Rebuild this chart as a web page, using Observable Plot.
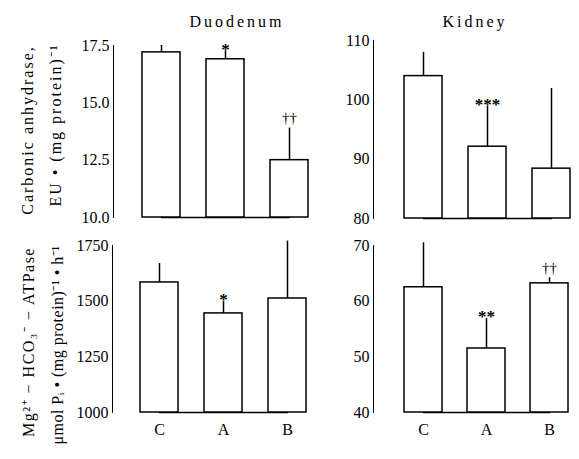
<!DOCTYPE html>
<html><head><meta charset="utf-8">
<script src="https://cdn.jsdelivr.net/npm/d3@7"></script>
<script src="https://cdn.jsdelivr.net/npm/@observablehq/plot@0.6"></script>
<style>
body{margin:0;background:#fff;}
#wrap{position:relative;width:579px;height:459px;overflow:hidden;font-family:"Liberation Serif",serif;color:#000;}
.panel{position:absolute;}
.ttl{position:absolute;font-size:16px;letter-spacing:3px;transform:translate(-50%,-50%);white-space:nowrap;}
.ylab{position:absolute;font-size:16px;white-space:nowrap;transform:translate(-50%,-50%) rotate(-90deg);}
</style></head><body><div id="wrap"></div>
<script>
const groups = ["C", "A", "B"];

const duoCAMean = [17.2, 16.9, 12.5];
const duoCASem  = [0.3, 0.35, 1.4];
const duoCASig  = ["", "*", "††"];
const duoCATicks = [10, 12.5, 15, 17.5];

const kidCAMean = [104.0, 92.1, 88.4];
const kidCASem  = [4.0, 6.8, 13.5];
const kidCASig  = ["", "***", ""];
const kidCATicks = [80, 90, 100, 110];

const duoATPMean = [1584, 1445, 1512];
const duoATPSem  = [85, 53, 258];
const duoATPSig  = ["", "*", ""];
const duoATPTicks = [1000, 1250, 1500, 1750];

const kidATPMean = [62.5, 51.5, 63.2];
const kidATPSem  = [8.0, 5.4, 1.0];
const kidATPSig  = ["", "**", "††"];
const kidATPTicks = [40, 50, 60, 70];

const titles = ["Duodenum", "Kidney"];
const yTitlesTop = ["Carbonic anhydrase,", "EU • (mg protein)⁻¹"];
const yTitlesBottom = ["Mg²⁺ − HCO₃⁻ − ATPase", "μmol Pᵢ • (mg protein)⁻¹ • h⁻¹"];

const wrap = document.getElementById("wrap");

function panel(o) {
  const data = groups.map((g, i) => ({g, m: o.means[i], top: o.means[i] + o.sems[i], sig: o.sigs[i]}));
  const ymin = o.ticks[0], ymax = o.ticks[o.ticks.length - 1];
  const chart = Plot.plot({
    width: o.width, height: o.height,
    marginTop: o.mt, marginBottom: o.mb, marginLeft: o.ml, marginRight: o.mr,
    style: {fontFamily: "'Liberation Serif', serif", fontSize: "16px", background: "transparent", color: "black", overflow: "visible"},
    x: {domain: groups, paddingInner: 0.4, paddingOuter: o.pad, align: 1,
        axis: o.xAxis ? "bottom" : null, tickSize: 0, tickPadding: 11, label: null},
    y: {domain: [ymin, ymax], ticks: o.ticks, tickFormat: o.fmt, tickSize: 0, tickPadding: 4, label: null, line: true},
    marks: [
      Plot.lineY(data, {x: "g", y: () => ymin, stroke: "black", strokeWidth: 1.5}),
      Plot.barY(data, {x: "g", y1: () => ymin, y2: "m", fill: "white", stroke: "black", strokeWidth: 1.5}),
      Plot.ruleX(data, {x: "g", y1: "m", y2: "top", stroke: "black", strokeWidth: 1.5}),
      Plot.text(data.filter(d => d.sig.includes("*")), {x: "g", y: "top", text: "sig", dy: -2, fontSize: 17, fontWeight: "bold"}),
      Plot.text(data.filter(d => d.sig.includes("†")), {x: "g", y: "top", text: "sig", dy: -10, fontSize: 15})
    ]
  });
  chart.classList.add("panel");
  chart.style.left = o.left + "px";
  chart.style.top = o.top + "px";
  chart.style.fontSize = "16px";
  wrap.appendChild(chart);
}

const f1 = d3.format(".1f"), f0 = d3.format("d");
panel({means: duoCAMean, sems: duoCASem, sigs: duoCASig, ticks: duoCATicks, fmt: f1,
  left: 0, top: 0, width: 312, height: 232, mt: 45, mb: 15, ml: 113, mr: 4, pad: 0.21, xAxis: false});
panel({means: kidCAMean, sems: kidCASem, sigs: kidCASig, ticks: kidCATicks, fmt: f0,
  left: 312, top: 0, width: 267, height: 232, mt: 40, mb: 14, ml: 61, mr: 9, pad: 0.234, xAxis: false});
panel({means: duoATPMean, sems: duoATPSem, sigs: duoATPSig, ticks: duoATPTicks, fmt: f0,
  left: 0, top: 232, width: 312, height: 227, mt: 13, mb: 47, ml: 112, mr: 5.5, pad: 0.219, xAxis: true});
panel({means: kidATPMean, sems: kidATPSem, sigs: kidATPSig, ticks: kidATPTicks, fmt: f0,
  left: 312, top: 232, width: 267, height: 227, mt: 13, mb: 47, ml: 61, mr: 11, pad: 0.227, xAxis: true});

function addText(cls, text, x, y, extra) {
  const d = document.createElement("div");
  d.className = cls;
  d.textContent = text;
  d.style.left = x + "px";
  d.style.top = y + "px";
  if (extra) Object.assign(d.style, extra);
  wrap.appendChild(d);
}
addText("ttl", titles[0], 237, 22);
addText("ttl", titles[1], 475, 22);
addText("ylab", yTitlesTop[0], 28, 130, {letterSpacing: "2px"});
addText("ylab", yTitlesTop[1], 55, 125, {letterSpacing: "2px"});
addText("ylab", yTitlesBottom[0], 28, 342, {letterSpacing: "1.5px"});
addText("ylab", yTitlesBottom[1], 57, 345, {letterSpacing: "0.5px"});
</script></body></html>
